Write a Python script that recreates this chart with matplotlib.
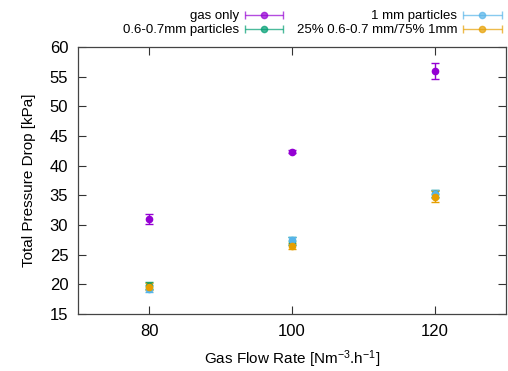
import numpy as np
import matplotlib.pyplot as plt
from matplotlib.legend_handler import HandlerErrorbar

plt.rcParams['font.family'] = ['Liberation Sans', 'DejaVu Sans']
plt.rcParams['mathtext.default'] = 'regular'

flow = [80, 100, 120]
labels = ['gas only', '0.6-0.7mm particles', '1 mm particles', '25% 0.6-0.7 mm/75% 1mm']
colors = ['#9400d3', '#009e73', '#56b4e9', '#e69f00']

gas_only = [31.0, 42.4, 56.0]
gas_only_err = [0.8, 0.3, 1.4]
fine = [19.8, 27.3, 35.3]
fine_err = [0.6, 0.7, 0.6]
coarse = [19.3, 27.4, 35.2]
coarse_err = [0.6, 0.6, 0.7]
mixed = [19.6, 26.5, 34.8]
mixed_err = [0.6, 0.5, 0.9]

series = [(gas_only, gas_only_err), (fine, fine_err), (coarse, coarse_err), (mixed, mixed_err)]

fig = plt.figure(figsize=(5.08, 3.71), dpi=100)
ax = fig.add_axes([0.1535, 0.1536, 0.8425, 0.7194])

handles = []
for (y, e), c, lab in zip(series, colors, labels):
    ax.errorbar(flow, y, yerr=e, fmt='o', color=c, ms=4.5, capsize=3, elinewidth=1, capthick=1)
    # proxy with horizontal bar for the gnuplot-style key
    h = ax.errorbar([np.nan], [np.nan], xerr=[1], fmt='o', color=c, ms=4.5,
                    capsize=3, elinewidth=1, capthick=1, alpha=0.7, label=lab)
    handles.append(h)

ax.set_xlim(70, 130)
ax.set_ylim(15, 60)
ax.set_xticks([80, 100, 120])
ax.set_yticks(np.arange(15, 61, 5))
ax.tick_params(direction='in', length=5.8, width=0.8, top=True, right=True,
               labelsize=12, colors='#333333', labelcolor='black', pad=7)
for s in ax.spines.values():
    s.set_color('#444444')
    s.set_linewidth(0.9)

ax.set_xlabel('Gas Flow Rate [Nm$^{-3}$.h$^{-1}$]', fontsize=11, labelpad=7)
ax.set_ylabel('Total Pressure Drop [kPa]', fontsize=11, labelpad=10)

fig.legend(handles=handles, labels=labels, ncol=2, markerfirst=False, frameon=False,
           loc='upper right', bbox_to_anchor=(1.012, 1.005), fontsize=9.5,
           handlelength=3.0, columnspacing=1.0, labelspacing=0.15, handletextpad=0.4,
           handler_map={type(handles[0]): HandlerErrorbar(xerr_size=1.45)})

fig.savefig('out.png', dpi=100)
